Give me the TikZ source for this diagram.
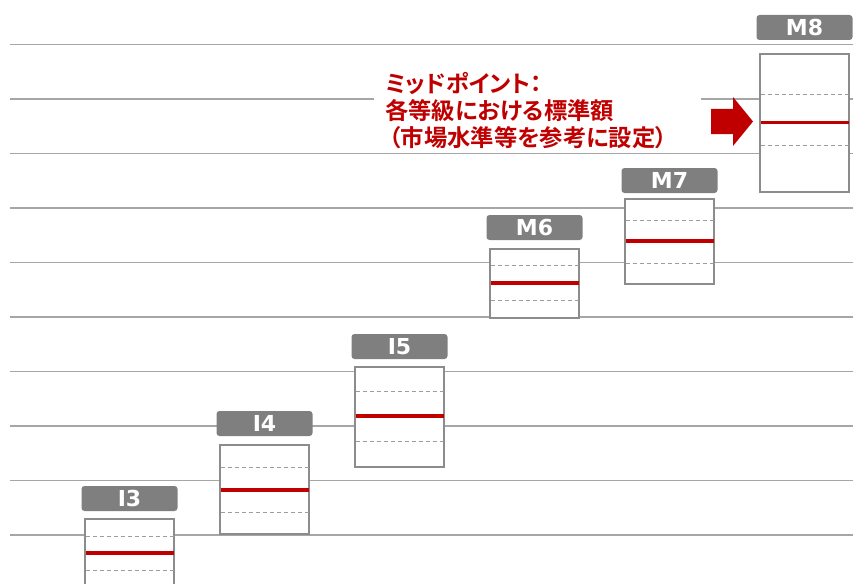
\documentclass[tikz,border=0pt]{standalone}
\usepackage{fontspec}
\newfontfamily\cjkbold{Noto Sans CJK JP Bold}[RawFeature=+palt]
\newfontfamily\gradefont{DejaVu Sans Bold}
\definecolor{rulegray}{HTML}{A6A6A6}
\definecolor{boxgray}{HTML}{8C8C8C}
\definecolor{taggray}{HTML}{7F7F7F}
\definecolor{midred}{HTML}{C00000}

\begin{document}
\begin{tikzpicture}
  [x=1pt,y=-1pt,
   every node/.style={inner sep=0pt},
   guide/.style={draw=rulegray,line width=1.1pt},
   gradetag/.style={rounded corners=3pt,fill=taggray,text=white,
     minimum width=96pt,minimum height=25pt,
     font=\gradefont\fontsize{22}{22}\selectfont},
   gradebox/.style={draw=boxgray,fill=white,line width=1.4pt,minimum width=89pt},
   midline/.style={draw=midred,line width=3.2pt},
   quartline/.style={draw=boxgray!85,line width=1pt,dash pattern=on 4pt off 3pt},
   note/.style={anchor=base west,text=midred,
     font=\cjkbold\fontsize{23.3}{27}\selectfont}]
  \useasboundingbox (0,0) rectangle (853,583);
  % horizontal guides
  \foreach \k in {0,...,9}
    \draw[guide] (10,{44.5+54.5*\k}) -- (853,{44.5+54.5*\k});
  % note on the mid point
  \fill[white] (374,66) rectangle (701,150);
  \node[note] (note1) at (385,93) {ミッドポイント：};
  \node[note] (note2) at (385,120) {各等級における標準額};
  \node[note] (note3) at (389,146.5) {（市場水準等を参考に設定）};
  % grade ranges
  \foreach \g/\cx/\tagy/\top/\bot/\mid/\qa/\qb in {I3/129.5/498.5/519/600/553/536/570,
      I4/264.5/423.5/445/534/490/467/512, I5/399.5/346.5/367/467/416/391/441,
      M6/534.5/227.5/249/318/283/265/300, M7/669.5/180.5/199/284/241/220/263,
      M8/804.5/27.5/54/192/122.5/95/145}{
    \node[gradebox,minimum height={\bot-\top}] (box\g) at (\cx,{(\top+\bot)/2}) {};
    \draw[quartline] ({\cx-44},\qa) -- ({\cx+44},\qa);
    \draw[quartline] ({\cx-44},\qb) -- ({\cx+44},\qb);
    \draw[midline] ({\cx-44},\mid) -- ({\cx+44},\mid);
    \node[gradetag] (tag\g) at (\cx,\tagy) {\g};
  }
  % pointer
  \fill[midred] (711,109) -- (733,109) -- (733,97) -- (753,121.5)
    -- (733,146) -- (733,134) -- (711,134) -- cycle;
\end{tikzpicture}
\end{document}
